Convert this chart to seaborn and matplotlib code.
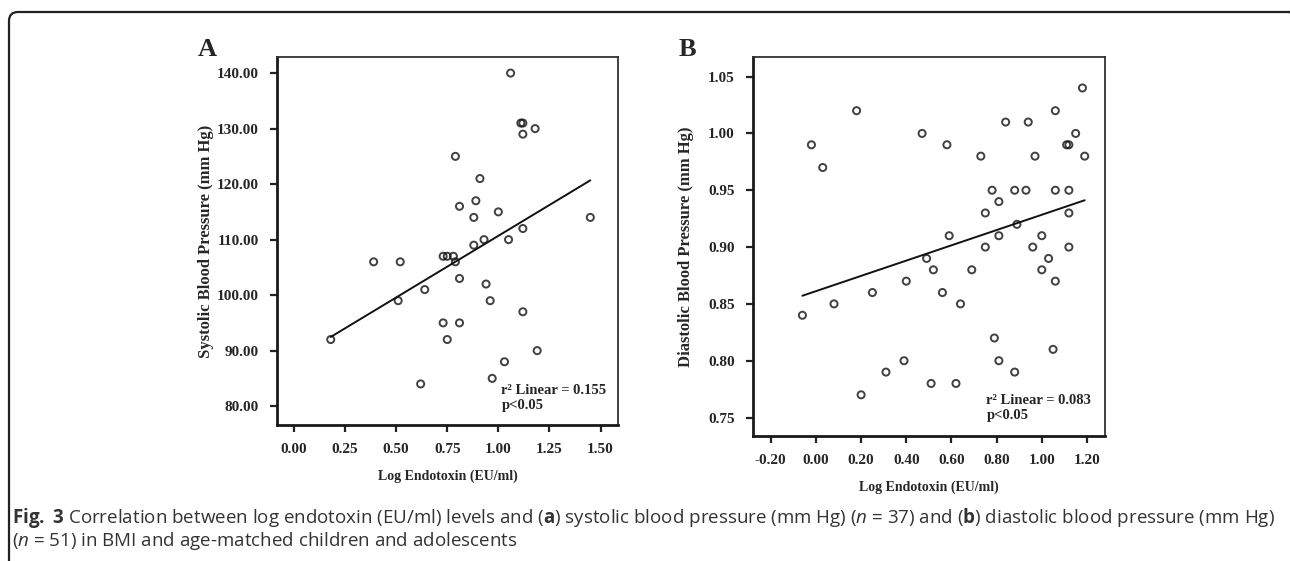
import numpy as np
import pandas as pd
import seaborn as sns
import matplotlib
matplotlib.use("Agg")
import matplotlib.pyplot as plt
from matplotlib.patches import FancyBboxPatch
from matplotlib.transforms import IdentityTransform

# ---- data ----
endo_a = [1.06, 1.11, 1.12, 1.18, 1.12, 0.79, 0.91, 0.81, 0.89, 0.88, 1.00, 1.45,
          1.12, 0.93, 1.05, 0.88, 0.39, 0.52, 0.73, 0.75, 0.78, 0.79, 0.81, 0.94,
          0.64, 0.51, 0.96, 1.12, 0.73, 0.81, 0.18, 0.75, 1.19, 1.03, 0.97, 0.62]
sbp = [140, 131, 131, 130, 129, 125, 121, 116, 117, 114, 115, 114,
       112, 110, 110, 109, 106, 106, 107, 107, 107, 106, 103, 102,
       101, 99, 99, 97, 95, 95, 92, 92, 90, 88, 85, 84]

endo_b = [1.18, 0.18, 1.06, 0.84, 0.94, 0.47, 1.15, -0.02, 0.58, 1.11, 1.12,
          0.03, 0.73, 0.97, 1.19, 0.78, 0.88, 0.93, 1.06, 1.12, 0.81, 0.75,
          1.12, 0.89, 0.59, 0.81, 1.00, 0.75, 0.96, 1.12, 0.49, 1.03, 0.52,
          0.69, 1.00, 0.40, 1.06, 0.25, 0.56, 0.08, 0.64, -0.06, 0.79, 1.05,
          0.39, 0.81, 0.31, 0.88, 0.51, 0.62, 0.20]
dbp = [1.04, 1.02, 1.02, 1.01, 1.01, 1.00, 1.00, 0.99, 0.99, 0.99, 0.99,
       0.97, 0.98, 0.98, 0.98, 0.95, 0.95, 0.95, 0.95, 0.95, 0.94, 0.93,
       0.93, 0.92, 0.91, 0.91, 0.91, 0.90, 0.90, 0.90, 0.89, 0.89, 0.88,
       0.88, 0.88, 0.87, 0.87, 0.86, 0.86, 0.85, 0.85, 0.84, 0.82, 0.81,
       0.80, 0.80, 0.79, 0.79, 0.78, 0.78, 0.77]

xticks_a = [0.0, 0.25, 0.5, 0.75, 1.0, 1.25, 1.5]
yticks_a = [80, 90, 100, 110, 120, 130, 140]
xticks_b = [-0.2, 0.0, 0.2, 0.4, 0.6, 0.8, 1.0, 1.2]
yticks_b = [0.75, 0.80, 0.85, 0.90, 0.95, 1.00, 1.05]

df_a = pd.DataFrame({"endotoxin": endo_a, "sbp": sbp})
df_b = pd.DataFrame({"endotoxin": endo_b, "dbp": dbp})

sns.set_style("ticks")
plt.rcParams["font.family"] = ["Liberation Serif", "DejaVu Serif"]
plt.rcParams["font.weight"] = "bold"
# caption uses mathtext only for the bold / italic bits, mapped to Open Sans
plt.rcParams["mathtext.fontset"] = "custom"
plt.rcParams["mathtext.rm"] = "Open Sans:normal"
plt.rcParams["mathtext.bf"] = "Open Sans:bold"
plt.rcParams["mathtext.it"] = "Open Sans:italic:normal"

fig = plt.figure(figsize=(12.9, 5.61), dpi=100)
ax_a = fig.add_axes([0.2147, 0.2424, 0.2643, 0.656])
ax_b = fig.add_axes([0.5835, 0.2233, 0.2731, 0.6746])

pt_kws = dict(s=26, facecolors="none", edgecolors="#111111", linewidths=1.4)
ln_kws = dict(color="#111111", lw=1.4)


def style_axis(ax, xt, yt, xlim, ylim, ylab, ypad):
    ax.set_xlim(*xlim)
    ax.set_ylim(*ylim)
    ax.set_xticks(xt)
    ax.set_yticks(yt)
    ax.set_xticklabels([f"{v:.2f}" for v in xt], fontsize=11, fontweight="bold")
    ax.set_yticklabels([f"{v:.2f}" for v in yt], fontsize=11, fontweight="bold")
    ax.tick_params(direction="out", length=5, width=1.6, color="#222222", pad=8)
    ax.set_xlabel("Log Endotoxin (EU/ml)", fontsize=10, fontweight="bold", labelpad=10)
    ax.set_ylabel(ylab, fontsize=12, fontweight="bold", labelpad=ypad)
    for side in ["left", "bottom"]:
        ax.spines[side].set_linewidth(2.0)
        ax.spines[side].set_color("#1a1a1a")
    for side in ["top", "right"]:
        ax.spines[side].set_visible(True)
        ax.spines[side].set_linewidth(1.3)
        ax.spines[side].set_color("#333333")


sns.regplot(data=df_a, x="endotoxin", y="sbp", ax=ax_a, ci=None,
            scatter_kws=pt_kws, line_kws=ln_kws)
style_axis(ax_a, xticks_a, yticks_a, (-0.083, 1.585), (76.6, 142.9),
           "Systolic Blood Pressure (mm Hg)", 2)
ax_a.text(1.015, 81.5, "r² Linear = 0.155\np<0.05", fontsize=10.5, fontweight="bold",
          va="center", ha="left", linespacing=1.2)

sns.regplot(data=df_b, x="endotoxin", y="dbp", ax=ax_b, ci=None,
            scatter_kws=pt_kws, line_kws=ln_kws)
style_axis(ax_b, xticks_b, yticks_b, (-0.28, 1.28), (0.734, 1.067),
           "Diastolic Blood Pressure (mm Hg)", 10)
ax_b.text(0.755, 0.758, "r² Linear = 0.083\np<0.05", fontsize=10.5, fontweight="bold",
          va="center", ha="left", linespacing=1.2)

fig.text(198 / 1290, 1 - 56 / 561, "A", fontsize=19, fontweight="bold")
fig.text(679 / 1290, 1 - 56 / 561, "B", fontsize=19, fontweight="bold")

# caption
cap_font = ["Open Sans", "DejaVu Sans"]
line1 = (r"$\mathbf{Fig.\ 3}$ Correlation between log endotoxin (EU/ml) levels and "
         r"($\mathbf{a}$) systolic blood pressure (mm Hg) ($\mathit{n}$ = 37) and "
         r"($\mathbf{b}$) diastolic blood pressure (mm Hg)")
line2 = r"($\mathit{n}$ = 51) in BMI and age-matched children and adolescents"
fig.text(12 / 1290, 1 - 518 / 561, line1, fontsize=13.5, fontweight="normal",
         family=cap_font, color="#333333", va="center")
fig.text(12 / 1290, 1 - 541 / 561, line2, fontsize=13.5, fontweight="normal",
         family=cap_font, color="#333333", va="center")

# rounded frame around the figure
frame = FancyBboxPatch((9, -40), 1290, 589, boxstyle="round,pad=0,rounding_size=9",
                       transform=IdentityTransform(), fill=False, lw=1.6,
                       edgecolor="#222222", clip_on=False)
fig.patches.append(frame)

fig.savefig("out.png", dpi=100)
